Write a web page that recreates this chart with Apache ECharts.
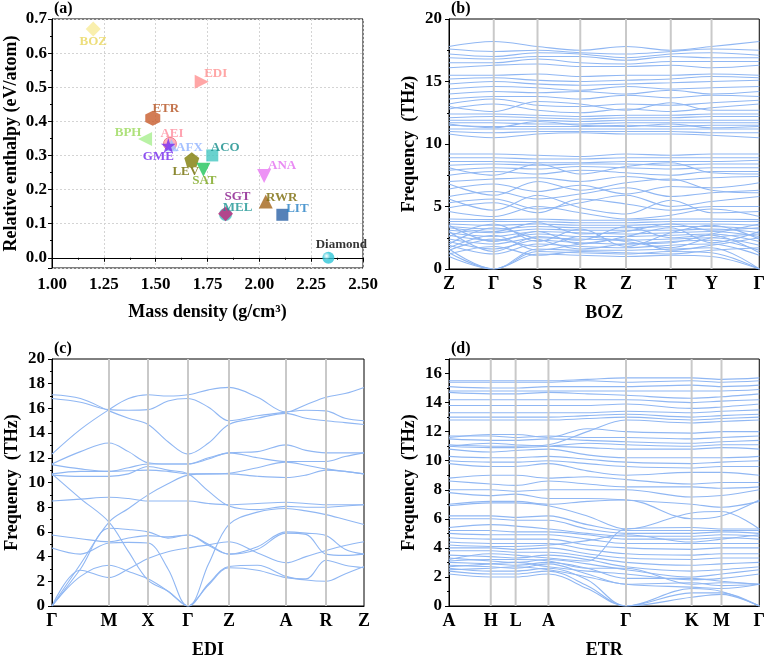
<!DOCTYPE html>
<html><head><meta charset="utf-8">
<script src="https://cdn.jsdelivr.net/npm/echarts@6/dist/echarts.min.js"></script>
<style>html,body{margin:0;padding:0;background:#fff}#c{width:768px;height:660px}</style>
</head><body><div id="c"></div>
<script>
// ---------- Panel (a) data ----------
const frameworks   = ['BOZ','EDI','ETR','BPH','AEI','AFX','GME','LEV','SAT','ACO','ANA','RWR','LIT','MEL','SGT','Diamond'];
const massDensity  = [1.199,1.722,1.486,1.449,1.569,1.576,1.561,1.674,1.730,1.773,2.023,2.031,2.111,1.837,1.837,2.333];
const relEnthalpy  = [0.671,0.516,0.409,0.348,0.334,0.330,0.329,0.287,0.258,0.300,0.240,0.165,0.126,0.127,0.129,0.0];
const densityTicks = [1.00,1.25,1.50,1.75,2.00,2.25,2.50];
const enthalpyTicks = [0.0,0.1,0.2,0.3,0.4,0.5,0.6,0.7];

// ---------- Panel (b) BOZ ----------
const bozPath   = ['Z','Γ','S','R','Z','T','Y','Γ'];
const bozKpos   = [0,45,89,132,178,223,264,312];
const bozBands = [
 [1.0,0,1.2,1.1,1.0,1.1,1.0,0],[1.3,0,1.4,1.3,1.2,1.4,1.3,0],[1.6,0,1.6,1.5,1.5,1.6,1.7,0],
 [1.9,1.2,2.0,1.8,1.7,1.9,2.0,1.1],[2.2,1.6,2.3,2.1,2.0,2.2,2.3,1.5],[2.4,2.0,2.5,2.4,2.3,2.4,2.5,1.9],
 [2.7,2.3,2.8,2.6,2.6,2.7,2.8,2.2],[2.9,2.6,3.0,2.9,2.8,2.9,3.0,2.6],[3.1,2.9,3.2,3.1,3.1,3.1,3.2,2.9],
 [3.4,3.2,3.4,3.3,3.3,3.4,3.4,3.2],[3.6,3.5,3.6,3.5,3.5,3.6,3.6,3.5],[3.8,3.8,3.8,3.7,3.7,3.8,3.8,3.8],
 [4.0,3.95,4.0,3.9,3.9,4.0,4.0,3.95],[1.5,2.4,1.8,2.6,2.2,1.7,2.5,2.8],[3.5,2.2,3.0,2.0,2.6,3.3,2.1,3.0],
 [2.6,3.6,2.2,3.2,1.8,2.9,3.5,2.4],[1.2,1.8,1.1,1.4,1.3,1.2,1.5,1.7],[3.0,1.4,2.6,2.3,3.4,2.5,2.7,1.3],
 [1.7,2.7,1.5,2.0,2.4,1.5,1.9,2.5],[3.3,3.0,3.7,2.8,3.0,3.6,3.1,3.3],[2.0,3.3,2.4,1.6,2.0,2.1,2.8,3.6],
 [4.6,4.2,5.0,4.5,4.0,4.3,4.8,4.2],[5.3,5.6,4.8,5.3,5.9,5.0,5.4,5.8],[5.8,6.2,5.6,6.0,6.5,5.8,6.1,6.3],
 [6.4,6.8,6.2,6.7,6.0,6.6,6.5,6.9],[7.0,7.2,7.3,7.0,7.4,7.1,7.3,7.4],[7.5,7.8,7.6,7.9,7.7,7.5,7.8,7.8],
 [7.9,8.1,8.0,8.2,8.1,8.0,8.1,8.1],[8.3,8.4,8.3,8.4,8.4,8.3,8.4,8.4],[8.6,8.6,8.5,8.5,8.6,8.6,8.6,8.7],
 [8.9,8.9,8.8,8.8,8.9,8.9,8.9,8.9],[9.2,9.2,9.1,9.0,9.2,9.1,9.2,9.2],[4.9,5.3,4.5,5.6,5.2,4.7,5.0,5.0],
 [6.8,5.9,7.0,6.3,6.9,7.2,6.3,6.1],[8.1,7.5,8.4,7.6,8.2,8.5,7.7,7.6],[5.6,4.7,5.9,4.9,4.4,5.5,4.5,4.6],
 [10.8,10.5,10.8,10.9,10.8,10.8,10.7,10.5],[11.0,10.9,11.0,11.0,11.0,11.0,10.9,10.9],[11.2,11.2,11.2,11.2,11.2,11.2,11.2,11.2],
 [11.5,11.4,11.4,11.4,11.5,11.4,11.5,11.5],[11.7,11.7,11.6,11.6,11.7,11.7,11.7,11.7],[11.9,11.9,11.9,11.8,11.9,11.9,11.9,11.9],
 [12.1,12.2,12.1,12.0,12.1,12.1,12.2,12.2],[12.4,12.4,12.3,12.2,12.3,12.3,12.4,12.4],[11.6,11.3,11.8,11.5,11.4,11.6,11.3,11.4],
 [12.8,13.2,12.7,12.5,12.8,12.6,12.9,13.2],[13.2,13.6,13.1,13.0,13.2,13.1,13.3,13.5],[13.6,13.8,13.8,13.6,13.9,13.7,13.9,13.8],
 [14.0,14.2,14.1,14.2,14.0,14.3,14.0,14.2],[14.4,14.6,14.5,14.3,14.6,14.4,14.5,14.6],[14.8,15.0,14.8,14.7,14.8,14.9,15.0,15.1],
 [15.2,15.3,15.1,15.0,15.1,15.2,15.4,15.3],[15.5,15.5,15.6,15.4,15.5,15.5,15.6,15.5],[13.0,12.6,13.4,13.2,12.7,13.3,12.7,12.7],
 [16.1,16.3,16.4,16.2,16.2,16.3,16.1,16.3],[16.5,16.5,16.8,16.5,16.4,16.6,16.6,16.6],[16.9,16.8,17.0,17.0,16.7,17.0,16.9,16.9],
 [17.2,17.0,17.3,17.2,16.9,17.2,17.3,17.1],[17.6,17.4,17.5,17.3,17.2,17.4,17.6,17.5],[17.8,18.2,17.8,17.5,17.8,17.5,17.8,18.2]
];

// ---------- Panel (c) EDI ----------
const ediPath = ['Γ','M','X','Γ','Z','A','R','Z'];
const ediHs   = [0,57,96,136,177,234,274,312];
const ediKpos = [0,28.5,57,76.5,96,116,136,156.5,177,205.5,234,254,274,293,312];
const ediBands = [
 [0,2.9,2.3,3.0,3.85,4.4,4.7,4.95,5.2,4.3,3.5,4.0,4.5,4.9,5.2],
 [0,2.4,3.3,2.8,2.2,1.2,0,1.8,3.2,3.3,2.4,2.1,2.0,2.6,3.2],
 [0,3.4,6.8,7.9,9.0,9.9,10.6,10.7,10.7,10.5,10.4,10.6,11.0,10.9,10.7],
 [10.7,8.7,6.8,4.4,2.1,1.2,0,3.4,6.6,7.6,7.9,7.7,7.4,7.0,6.6],
 [4.7,4.2,5.1,5.15,5.1,3.0,0,1.7,3.1,2.9,2.3,2.2,3.7,3.3,3.1],
 [5.75,5.45,5.2,5.5,5.7,5.6,5.75,5.0,4.2,4.6,5.9,5.8,4.2,4.1,4.2],
 [0,3.0,6.3,6.2,6.0,5.5,5.75,4.9,4.2,4.8,6.0,5.9,5.7,4.6,4.2],
 [8.5,8.65,8.8,8.7,8.5,8.5,8.5,8.3,8.2,8.3,8.4,8.3,8.2,8.2,8.2],
 [10.6,10.5,10.5,10.7,11.3,11.0,10.7,9.3,8.1,7.8,8.07,8.0,8.0,8.1,8.2],
 [11.5,12.5,13.2,12.5,11.6,11.5,11.5,12.0,12.4,12.5,13.05,12.6,12.4,12.4,12.4],
 [11.45,11.1,10.9,11.2,11.5,11.5,11.5,11.9,12.4,12.0,11.7,11.7,11.7,12.1,12.4],
 [10.7,10.9,10.9,10.95,11.0,10.9,10.7,10.7,10.75,11.2,11.65,11.4,11.1,10.9,10.7],
 [12.3,14.3,15.9,16.8,17.1,17.0,17.1,17.5,17.7,16.9,15.7,16.3,16.9,17.2,17.7],
 [16.8,16.5,15.9,15.85,15.9,16.6,16.8,16.1,15.0,15.4,15.7,15.85,15.8,15.2,15.0],
 [17.1,16.8,15.8,15.2,14.7,13.3,12.3,13.2,14.7,15.2,15.6,15.2,15.0,14.85,14.7]
];

// ---------- Panel (d) ETR ----------
const etrPath = ['A','H','L','A','Γ','K','M','Γ'];
const etrHs   = [0,42,67,100,178,244,274,312];
const etrKpos = [0,42,67,100,139,178,244,274,312];
const etrBands = [
 [2.2,2.0,2.0,2.2,1.2,0,0.6,0.8,0],[2.4,2.2,2.2,2.4,1.4,0,0.9,0.9,0],[2.6,2.4,2.4,2.6,1.8,0,1.2,1.0,0],
 [2.8,2.7,2.6,2.9,2.2,1.5,1.6,1.4,1.5],[3.0,2.9,2.8,3.0,2.6,1.9,1.9,1.7,1.5],[3.3,3.1,3.0,3.2,2.9,2.5,2.0,2.2,2.5],
 [3.5,3.4,3.3,3.5,3.2,2.7,2.4,2.5,2.7],[3.8,3.8,3.7,3.7,3.4,3.0,2.8,2.9,3.0],[4.0,4.0,3.9,4.0,3.6,3.3,3.2,3.3,3.3],
 [4.4,4.3,4.3,4.3,3.9,3.6,3.5,3.6,3.6],[4.7,4.6,4.6,4.6,4.2,4.0,3.9,4.0,4.0],[5.0,4.9,4.9,4.9,4.6,4.3,4.3,4.3,4.3],
 [5.2,5.2,5.1,5.1,4.9,4.6,4.6,4.7,4.6],[5.4,5.6,5.5,5.3,5.0,4.8,4.8,4.9,4.8],[6.0,6.0,5.9,5.9,5.3,5.0,5.0,5.1,5.0],
 [6.2,6.2,6.1,6.2,5.6,5.2,5.2,5.2,5.2],[3.2,3.6,3.5,3.3,3.1,5.3,5.4,5.3,5.3],[2.7,2.9,3.0,2.7,2.4,2.2,1.8,1.9,2.2],
 [3.1,3.2,3.2,3.1,2.6,2.6,1.5,1.6,1.5],[2.5,2.6,2.7,2.5,2.0,1.5,1.3,1.2,1.5],[4.2,4.1,4.1,4.2,4.5,4.9,4.4,4.6,4.9],
 [6.9,7.1,7.1,6.9,6.2,5.3,6.4,6.5,5.3],[7.0,7.2,7.2,7.0,7.2,7.3,6.0,6.2,7.3],[7.8,7.6,7.7,7.4,7.4,7.3,7.0,6.8,7.2],
 [8.0,8.0,7.9,8.0,8.0,8.0,7.5,7.6,8.0],[8.6,8.4,8.3,8.6,8.4,8.2,8.2,8.1,8.2],[8.8,9.0,9.0,8.8,8.9,8.7,8.4,8.5,8.5],
 [9.8,9.6,9.6,9.8,9.3,9.0,9.2,9.2,9.0],[10.0,9.9,9.9,10.0,9.8,9.6,9.5,9.6,9.6],[10.3,10.2,10.2,10.3,10.1,9.9,9.8,9.9,10.0],
 [10.8,10.6,10.7,10.8,10.4,10.2,10.2,10.2,10.3],[11.0,11.2,11.1,11.0,10.9,10.8,10.8,10.9,10.8],[11.0,10.9,10.9,11.0,11.2,11.1,11.0,11.1,11.1],
 [11.5,11.4,11.4,11.5,11.4,11.3,11.2,11.3,11.4],[11.7,11.7,11.6,11.7,11.6,11.6,11.5,11.6,11.7],[11.6,11.8,11.8,11.6,12.2,12.0,11.9,12.0,12.0],
 [11.1,11.0,11.0,11.1,12.0,12.8,12.6,12.7,12.8],[12.8,12.8,12.8,12.8,12.9,13.0,12.8,12.9,13.0],[13.0,13.0,13.0,13.0,13.1,13.2,13.0,13.1,13.2],
 [13.3,13.3,13.3,13.3,13.3,13.4,13.3,13.4,13.5],[13.8,13.8,13.8,13.8,13.8,13.9,13.6,13.7,13.9],[14.2,14.2,14.2,14.2,14.2,14.2,14.0,14.1,14.2],
 [14.7,14.6,14.6,14.7,14.6,14.5,14.3,14.4,14.6],[14.8,14.8,14.8,14.8,14.8,14.8,14.8,14.8,14.9],[15.1,15.0,15.0,15.1,15.1,15.1,15.2,15.1,15.2],
 [15.4,15.4,15.4,15.4,15.5,15.4,15.5,15.4,15.5],[15.5,15.5,15.5,15.5,15.6,15.7,15.7,15.6,15.7]
];

// ---------- styling ----------
const FONT = 'Liberation Serif';
const BAND = '#90b7f3';
const star = 'path://M0,-1L0.2245,-0.309L0.951,-0.309L0.363,0.118L0.588,0.809L0,0.382L-0.588,0.809L-0.363,0.118L-0.951,-0.309L-0.2245,-0.309Z';
const hexagon = 'path://M0,-1L0.866,-0.5L0.866,0.5L0,1L-0.866,0.5L-0.866,-0.5Z';
const pentagon = 'path://M0,-1L0.951,-0.309L0.588,0.809L-0.588,0.809L-0.951,-0.309Z';
const triR = 'path://M1,0L-0.8,-0.95L-0.8,0.95Z';
const triL = 'path://M-1,0L0.8,-0.95L0.8,0.95Z';
const triD = 'path://M-1,-0.8L1,-0.8L0,1Z';
const sphere = c => ({type:'radial',x:0.35,y:0.35,r:0.7,colorStops:[{offset:0,color:'#ffffff'},{offset:0.45,color:c},{offset:1,color:c}]});
const markerStyle = {
 BOZ:{s:'diamond',z:15,c:'#f7eb98',lc:'#e8d65a',o:[0,13]},
 EDI:{s:triR,z:14,c:'#ff9090',lc:'#ff8e8e',o:[14,-8]},
 ETR:{s:hexagon,z:15,c:'#c85b2a',lc:'#b4501e',o:[13,-10]},
 BPH:{s:triL,z:14,c:'#a8ef8e',lc:'#9ada5a',o:[-17,-6]},
 AEI:{s:'circle',z:13,c:'#ff9fae',lc:'#ff8c9e',o:[2,-10],b:'#e86a7a'},
 AFX:{s:'triangle',z:12,c:'#9fc0ff',lc:'#8fb2ff',o:[18,2]},
 GME:{s:star,z:15,c:'#7a2cf0',lc:'#7327ee',o:[-10,11]},
 LEV:{s:pentagon,z:15,c:'#7e7c06',lc:'#6f6c00',o:[-6,12]},
 SAT:{s:triD,z:14,c:'#1fc45a',lc:'#7aa51c',o:[1,11]},
 ACO:{s:'rect',z:12,c:'#44c7c2',lc:'#138c8a',o:[13,-8]},
 ANA:{s:triD,z:14,c:'#e878f2',lc:'#e46ef0',o:[18,-10]},
 RWR:{s:'triangle',z:14,c:'#a36418',lc:'#7a6a08',o:[16,-4]},
 LIT:{s:'rect',z:12,c:'#2b62a6',lc:'#2680c4',o:[15,-6]},
 MEL:{s:'circle',z:13,c:'#3fc4c0',lc:'#1c9592',o:[12,-7]},
 SGT:{s:'diamond',z:15,c:'#c4257c',lc:'#86158a',o:[12,-17]},
 Diamond:{s:'circle',z:12,c:sphere('#2fc6d8'),lc:'#000',o:[13,-13]}
};

const scatterData = frameworks.map((name,i)=>{
 const st = markerStyle[name];
 return {
  name, value:[massDensity[i], relEnthalpy[i]],
  symbol: st.s, symbolSize: st.z,
  itemStyle:{color: st.c, borderColor: st.b||'rgba(0,0,0,0)', borderWidth: st.b?1:0},
  label:{show:true, formatter:name, position:'inside', offset:st.o, color:st.lc,
         fontFamily:FONT, fontWeight:'bold', fontSize:13, align:'center', verticalAlign:'middle'}
 };
});

const boldTxt = (size)=>({fontFamily:FONT, fontWeight:'bold', fontSize:size, color:'#000'});
const grids = [
 {left:52, top:19, width:311, height:249},
 {left:449, top:19, width:312, height:250},
 {left:52, top:359, width:312, height:250},
 {left:449, top:359, width:312, height:249}
].map(g=>Object.assign(g,{show:true, borderColor:'#000', borderWidth:1, backgroundColor:'transparent', containLabel:false}));

function bandXAxis(gi, hs, names, title){
 return {
  gridIndex:gi, type:'value', min:0, max:hs[hs.length-1],
  axisLine:{show:true, lineStyle:{color:'#000', width:1}},
  axisTick:{show:false}, splitLine:{show:false},
  axisLabel:Object.assign(boldTxt(18),{customValues:hs, margin:6,
   formatter:v=>{const k=hs.findIndex(p=>Math.abs(p-v)<1e-6); return k>=0?names[k]:'';}}),
  name:title, nameLocation:'middle', nameGap:35, nameTextStyle:boldTxt(18)
 };
}
function bandYAxis(gi, max, interval, hideMax){
 return {
  gridIndex:gi, type:'value', min:0, max:max, interval:interval,
  axisLine:{show:true, lineStyle:{color:'#000', width:1}},
  axisTick:{show:true, length:4, lineStyle:{color:'#000'}},
  minorTick:{show:true, splitNumber:2, length:2, lineStyle:{color:'#000'}},
  splitLine:{show:false},
  axisLabel:Object.assign(boldTxt(17),{margin:7, showMaxLabel:!hideMax}),
  name:'Frequency  (THz)', nameLocation:'middle', nameGap:31, nameTextStyle:boldTxt(18)
 };
}

const series = [{
 type:'scatter', xAxisIndex:0, yAxisIndex:0, data:scatterData, z:5,
 emphasis:{disabled:true}
}];

function addBands(gi, kpos, bands, hs, ymax){
 bands.forEach(b=>{
  series.push({type:'line', xAxisIndex:gi, yAxisIndex:gi, silent:true, smooth:0.35, showSymbol:false,
   lineStyle:{color:BAND, width:1.1}, z:2, data:kpos.map((x,i)=>[x,b[i]])});
 });
 hs.slice(1,-1).forEach(p=>{
  series.push({type:'line', xAxisIndex:gi, yAxisIndex:gi, silent:true, showSymbol:false,
   lineStyle:{color:'#c9c9c9', width:2}, z:3, data:[[p,0],[p,ymax]]});
 });
}
addBands(1, bozKpos, bozBands, bozKpos, 20);
addBands(2, ediKpos, ediBands, ediHs, 20);
addBands(3, etrKpos, etrBands, etrHs, 17);

const option = {
 animation:false,
 grid:grids,
 xAxis:[
  {gridIndex:0, type:'value', min:1, max:2.5, interval:0.25,
   axisLine:{show:true, lineStyle:{color:'#000'}},
   axisTick:{show:true, length:4, lineStyle:{color:'#000'}},
   minorTick:{show:true, splitNumber:2, length:2, lineStyle:{color:'#000'}},
   splitLine:{show:true, lineStyle:{color:'#d4d4d4', type:[2,2], width:1}},
   axisLabel:Object.assign(boldTxt(17),{margin:8, formatter:v=>v.toFixed(2)}),
   name:'Mass density (g/cm³)', nameLocation:'middle', nameGap:35, nameTextStyle:boldTxt(18)},
  bandXAxis(1, bozKpos, bozPath, 'BOZ'),
  bandXAxis(2, ediHs, ediPath, 'EDI'),
  bandXAxis(3, etrHs, etrPath, 'ETR')
 ],
 yAxis:[
  {gridIndex:0, type:'value', min:-0.03, max:0.7, splitNumber:7,
   axisLine:{show:true, lineStyle:{color:'#000'}},
   axisTick:{show:true, length:4, lineStyle:{color:'#000'}},
   minorTick:{show:true, splitNumber:2, length:2, lineStyle:{color:'#000'}},
   splitLine:{show:true, lineStyle:{color:'#d4d4d4', type:[2,2], width:1}},
   axisLabel:Object.assign(boldTxt(17),{margin:5, showMinLabel:false, formatter:v=>v.toFixed(1)}),
   name:'Relative enthalpy (eV/atom)', nameLocation:'middle', nameGap:32, nameTextStyle:boldTxt(18)},
  bandYAxis(1, 20, 5, false),
  bandYAxis(2, 20, 2, false),
  bandYAxis(3, 17, 2, true)
 ],
 graphic:[
  {type:'text', left:54, top:1, style:{text:'(a)', font:'bold 16px "Liberation Serif"', fill:'#000'}},
  {type:'text', left:451, top:1, style:{text:'(b)', font:'bold 16px "Liberation Serif"', fill:'#000'}},
  {type:'text', left:54, top:341, style:{text:'(c)', font:'bold 16px "Liberation Serif"', fill:'#000'}},
  {type:'text', left:451, top:341, style:{text:'(d)', font:'bold 16px "Liberation Serif"', fill:'#000'}}
 ],
 series
};
const chart = echarts.init(document.getElementById('c'), null, {renderer:'canvas'});
chart.setOption(option);
</script></body></html>
